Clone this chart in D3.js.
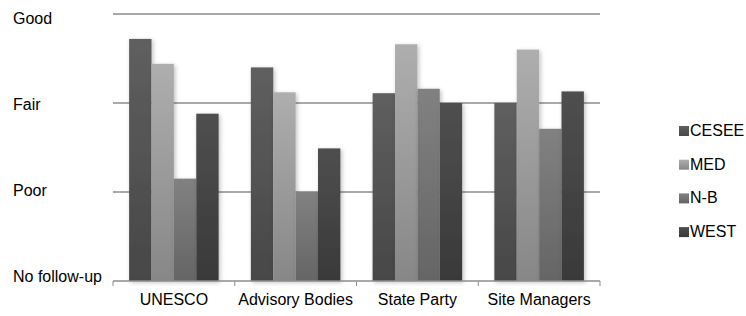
<!DOCTYPE html>
<html>
<head>
<meta charset="utf-8">
<script src="https://cdn.jsdelivr.net/npm/d3@7"></script>
<style>
  body { margin: 0; background: #fff; }
  text { font-family: "Liberation Sans", Arial, sans-serif; font-size: 16px; fill: #000; }
</style>
</head>
<body>
<div id="chart"></div>
<script>
// Data (0 = No follow-up ... 3 = Good)
const categories = ["UNESCO", "Advisory Bodies", "State Party", "Site Managers"];
const seriesNames = ["CESEE", "MED", "N-B", "WEST"];
const cesee = [2.72, 2.40, 2.11, 2.00];
const med = [2.44, 2.12, 2.66, 2.60];
const nb = [1.15, 1.00, 2.16, 1.71];
const west = [1.88, 1.49, 2.00, 2.13];
const levelLabels = ["No follow-up", "Poor", "Fair", "Good"];

const seriesValues = [cesee, med, nb, west];
const topColors = ["#5f5f5f", "#aeaeae", "#818181", "#4f4f4f"];
const bottomColors = ["#474747", "#878787", "#656565", "#393939"];

const width = 746;
const height = 316;
const margin = { top: 14, right: 146, bottom: 35, left: 113 };

const svg = d3.select("#chart")
  .append("svg")
  .attr("width", width)
  .attr("height", height);

const defs = svg.append("defs");

seriesNames.forEach((s, i) => {
  const g = defs.append("linearGradient")
    .attr("id", "grad" + i)
    .attr("x1", 0).attr("y1", 0)
    .attr("x2", 0).attr("y2", 1);
  g.append("stop").attr("offset", "0%").attr("stop-color", topColors[i]);
  g.append("stop").attr("offset", "100%").attr("stop-color", bottomColors[i]);
});

const shadow = defs.append("filter")
  .attr("id", "shadow")
  .attr("x", "-20%").attr("y", "-10%")
  .attr("width", "150%").attr("height", "130%");
shadow.append("feDropShadow")
  .attr("dx", 1.5).attr("dy", 1.5)
  .attr("stdDeviation", 2)
  .attr("flood-color", "#000")
  .attr("flood-opacity", 0.25);

const x = d3.scaleBand()
  .domain(categories)
  .range([margin.left, width - margin.right]);

const xInner = d3.scaleBand()
  .domain(seriesNames)
  .range([0, x.bandwidth()])
  .paddingOuter(0.72);

const y = d3.scaleLinear()
  .domain([0, 3])
  .range([height - margin.bottom, margin.top]);

// label baselines are spread a little tighter than the gridlines
const yLabel = d3.scaleLinear()
  .domain([0, 3])
  .range([282, 24]);

// gridlines
svg.append("g")
  .selectAll("line")
  .data([1, 2, 3])
  .join("line")
  .attr("x1", margin.left)
  .attr("x2", width - margin.right)
  .attr("y1", d => y(d))
  .attr("y2", d => y(d))
  .attr("stroke", "#8c8c8c")
  .attr("stroke-width", 1.5);

// bars
const groups = svg.append("g")
  .selectAll("g")
  .data(categories)
  .join("g")
  .attr("transform", d => `translate(${x(d)},0)`);

groups.selectAll("rect")
  .data((c, ci) => seriesNames.map((s, si) => ({ s, si, v: seriesValues[si][ci] })))
  .join("rect")
  .attr("x", d => xInner(d.s))
  .attr("width", xInner.bandwidth())
  .attr("y", d => y(d.v))
  .attr("height", d => y(0) - y(d.v))
  .attr("fill", d => `url(#grad${d.si})`)
  .attr("filter", "url(#shadow)");

// x axis line + ticks
const base = y(0);
svg.append("line")
  .attr("x1", margin.left).attr("x2", width - margin.right)
  .attr("y1", base).attr("y2", base)
  .attr("stroke", "#8c8c8c")
  .attr("stroke-width", 1.5);

const tickPos = categories.map(c => x(c)).concat([width - margin.right]);
svg.append("g")
  .selectAll("line")
  .data(tickPos)
  .join("line")
  .attr("x1", d => d).attr("x2", d => d)
  .attr("y1", base).attr("y2", base + 5)
  .attr("stroke", "#8c8c8c")
  .attr("stroke-width", 1);

// x labels
svg.append("g")
  .selectAll("text")
  .data(categories)
  .join("text")
  .attr("x", d => x(d) + x.bandwidth() / 2)
  .attr("y", 305)
  .attr("text-anchor", "middle")
  .text(d => d);

// y labels
svg.append("g")
  .selectAll("text")
  .data(levelLabels)
  .join("text")
  .attr("x", 13)
  .attr("y", (d, i) => yLabel(i))
  .text(d => d);

// legend
const legend = svg.append("g")
  .selectAll("g")
  .data(seriesNames)
  .join("g")
  .attr("transform", (d, i) => `translate(679,${136 + i * 33.7})`);

legend.append("rect")
  .attr("x", 0).attr("y", -10)
  .attr("width", 10).attr("height", 10)
  .attr("fill", (d, i) => `url(#grad${i})`);

legend.append("text")
  .attr("x", 11)
  .attr("y", 0)
  .text(d => d);
</script>
</body>
</html>
